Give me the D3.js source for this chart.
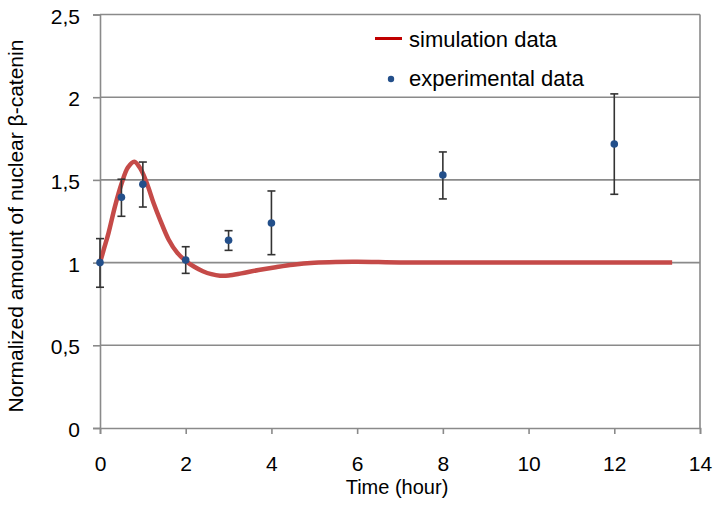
<!DOCTYPE html>
<html><head><meta charset="utf-8">
<script src="https://cdn.jsdelivr.net/npm/d3@7"></script>
<style>body{margin:0;background:#fff;} text{font-family:"Liberation Sans",Arial,sans-serif;fill:#000;}</style>
</head><body><svg id="c" width="720" height="505"></svg>
<script>
const simTime = [0,0.1,0.2,0.35,0.5,0.65,0.8,0.95,1.1,1.25,1.4,1.6,1.8,2.0,2.2,2.4,2.6,2.8,3.0,3.3,3.7,4.1,4.5,5.0,5.5,6.0,6.5,7,8,9,10,11,12,13.35];
const simValue = [1.0,1.09,1.18,1.34,1.475,1.575,1.61,1.565,1.475,1.36,1.26,1.14,1.06,1.01,0.975,0.948,0.93,0.921,0.922,0.935,0.955,0.972,0.987,0.999,1.004,1.005,1.003,1.001,1,1,1,1,1,1];
const expTime = [0,0.5,1,2,3,4,8,12];
const expValue = [1.0,1.395,1.473,1.016,1.135,1.239,1.53,1.717];
const expLow = [0.851,1.28,1.336,0.935,1.074,1.048,1.385,1.413];
const expHigh = [1.145,1.504,1.608,1.096,1.193,1.433,1.669,2.02];
const xTicks = [0,2,4,6,8,10,12,14];
const yTicks = [0,0.5,1,1.5,2,2.5];
const yTickLabels = ["0","0,5","1","1,5","2","2,5"];

const svg = d3.select("#c");
const x = d3.scaleLinear().domain([0,14]).range([100,700]);
const y = d3.scaleLinear().domain([0,2.5]).range([428,14.5]);
const grey = "#8a8a8a";
const FONT = "Liberation Sans, Arial, sans-serif";

// gridlines
svg.append("g").selectAll("line").data(yTicks.filter(d=>d>0)).join("line")
  .attr("x1",x(0)).attr("x2",x(14)).attr("y1",d=>y(d)).attr("y2",d=>y(d))
  .attr("stroke",grey).attr("stroke-width",1.6);
// right border
svg.append("line").attr("x1",x(14)).attr("x2",x(14)).attr("y1",y(2.5)).attr("y2",y(0))
  .attr("stroke",grey).attr("stroke-width",1.6);

// axes
const ya = svg.append("g").attr("transform",`translate(${x(0)},0)`)
  .call(d3.axisLeft(y).tickValues(yTicks).tickFormat((d,i)=>yTickLabels[i]).tickSize(7));
const xa = svg.append("g").attr("transform",`translate(0,${y(0)})`)
  .call(d3.axisBottom(x).tickValues(xTicks).tickFormat(d3.format("d")).tickSize(6));
[ya,xa].forEach(a=>{
  a.select(".domain").attr("stroke",grey).attr("stroke-width",1.6);
  a.selectAll(".tick line").attr("stroke",grey).attr("stroke-width",1.6);
  a.selectAll(".tick text").style("font-size","21px").style("font-family",FONT).attr("fill","#000");
});
ya.selectAll(".tick text").attr("x",-20).attr("dy",null).attr("y",8.5);
xa.selectAll(".tick text").attr("dy",null).attr("y",43);

// simulation curve
const line = d3.line().x((d,i)=>x(simTime[i])).y(d=>y(d)).curve(d3.curveCatmullRom);
svg.append("path").datum(simValue).attr("d",line).attr("fill","none")
  .attr("stroke","#c54a48").attr("stroke-width",4.5).attr("stroke-linejoin","round");

// error bars
const eb = svg.append("g").attr("stroke","#333").attr("stroke-width",1.6);
expTime.forEach((t,i)=>{
  eb.append("line").attr("x1",x(t)).attr("x2",x(t)).attr("y1",y(expLow[i])).attr("y2",y(expHigh[i]));
  eb.append("line").attr("x1",x(t)-4).attr("x2",x(t)+4).attr("y1",y(expLow[i])).attr("y2",y(expLow[i]));
  eb.append("line").attr("x1",x(t)-4).attr("x2",x(t)+4).attr("y1",y(expHigh[i])).attr("y2",y(expHigh[i]));
});
svg.append("g").selectAll("circle").data(expValue).join("circle")
  .attr("cx",(d,i)=>x(expTime[i])).attr("cy",d=>y(d)).attr("r",3.8).attr("fill","#234f8a");

// legend
svg.append("line").attr("x1",375).attr("x2",402).attr("y1",38.5).attr("y2",38.5).attr("stroke","#c00000").attr("stroke-width",3);
svg.append("text").attr("x",409).attr("y",47).style("font-size","22px").text("simulation data");
svg.append("circle").attr("cx",391).attr("cy",79).attr("r",3.2).attr("fill","#234f8a");
svg.append("text").attr("x",409).attr("y",86).style("font-size","22px").text("experimental data");

// axis titles
svg.append("text").attr("x",397).attr("y",494).attr("text-anchor","middle").style("font-size","20px").text("Time (hour)");
svg.append("text").attr("transform","translate(23,226) rotate(-90)").attr("text-anchor","middle").style("font-size","21px").text("Normalized amount of nuclear β-catenin");
</script></body></html>
